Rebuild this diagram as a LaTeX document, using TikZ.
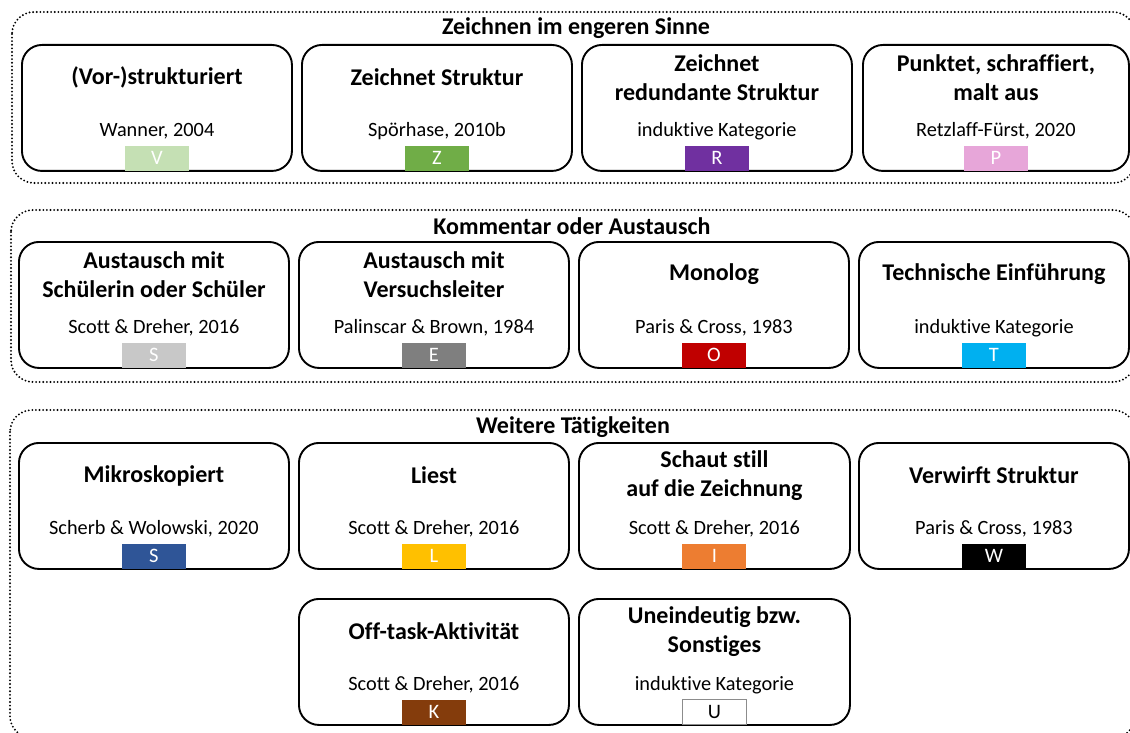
\documentclass[tikz,border=0pt]{standalone}
\usepackage{fontspec}
\setmainfont{Carlito}[Ligatures=NoCommon]

% swatch colours
\definecolor{cV}{HTML}{C5E0B4}
\definecolor{cZ}{HTML}{70AD47}
\definecolor{cR}{HTML}{7030A0}
\definecolor{cP}{HTML}{E7A6D9}
\definecolor{cS}{HTML}{C8C8C8}
\definecolor{cE}{HTML}{7F7F7F}
\definecolor{cO}{HTML}{C00000}
\definecolor{cT}{HTML}{00B0F0}
\definecolor{cM}{HTML}{2F5597}
\definecolor{cL}{HTML}{FFC000}
\definecolor{cI}{HTML}{ED7D31}
\definecolor{cW}{HTML}{000000}
\definecolor{cK}{HTML}{843C0C}

\tikzset{
  catbox/.style={draw, line width=1.9pt, rounded corners=20pt,
    minimum height=126pt, inner sep=0pt, anchor=north west},
  group/.style={draw=black, line width=2.1pt, dash pattern=on 0pt off 3.6pt,
    line cap=round, rounded corners=22pt},
  grouptitle/.style={font=\bfseries\fontsize{24}{29}\selectfont},
  cattitle/.style={font=\bfseries\fontsize{24}{29.5}\selectfont, align=center},
  citation/.style={font=\fontsize{20.3}{24}\selectfont},
  swatch/.style={minimum width=64pt, minimum height=25pt, inner sep=0pt,
    text=white, font=\fontsize{20.5}{24}\selectfont, anchor=south},
  plainswatch/.style={fill=white, draw=black!45, line width=0.8pt, text=black},
}

% name, left x, top y, width, title, citation, swatch style, letter
\newcommand\catnode[8]{%
  \node[catbox, minimum width=#4pt] (#1) at (#2,#3) {};
  \node[cattitle, yshift=-33.5pt] (#1-t) at (#1.north) {#5};
  \node[citation, yshift=-87pt] (#1-c) at (#1.north) {#6};
  \node[swatch, #7, yshift=0.95pt] (#1-s) at (#1.south) {#8};
}

\begin{document}
\begin{tikzpicture}[x=1pt, y=-1pt]
  \useasboundingbox (0,0) rectangle (1130,733);
  \clip (0,0) rectangle (1130,733);

  % groups
  \draw[group] (12,12) rectangle (1135,183);
  \draw[group] (11,210) rectangle (1135,382);
  \draw[group] (10,410) rectangle (1135,738);

  \node[grouptitle] (g1) at (576,28) {Zeichnen im engeren Sinne};
  \node[grouptitle] (g2) at (572,226) {Kommentar oder Austausch};
  \node[grouptitle] (g3) at (573,427) {Weitere Tätigkeiten};

  % drawing in the narrower sense
  \catnode{v}{21}{44}{270}{(Vor-)strukturiert}{Wanner, 2004}{fill=cV}{V}
  \catnode{z}{301}{44}{270}{Zeichnet Struktur}{Spörhase, 2010b}{fill=cZ}{Z}
  \catnode{r}{581}{44}{270}{Zeichnet\\redundante Struktur}{induktive Kategorie}{fill=cR}{R}
  \catnode{p}{862}{44}{266}{Punktet, schraffiert,\\malt aus}{Retzlaff-Fürst, 2020}{fill=cP}{P}

  % comment or exchange
  \catnode{s}{18}{241}{270}{Austausch mit\\Schülerin oder Schüler}{Scott \& Dreher, 2016}{fill=cS}{S}
  \catnode{e}{298}{241}{270}{Austausch mit\\Versuchsleiter}{Palinscar \& Brown, 1984}{fill=cE}{E}
  \catnode{o}{578}{241}{270}{Monolog}{Paris \& Cross, 1983}{fill=cO}{O}
  \catnode{t}{858}{241}{270}{Technische Einführung}{induktive Kategorie}{fill=cT}{T}

  % further activities
  \catnode{m}{18}{442}{270}{Mikroskopiert}{Scherb \& Wolowski, 2020}{fill=cM}{S}
  \catnode{l}{298}{442}{270}{Liest}{Scott \& Dreher, 2016}{fill=cL}{L}
  \catnode{i}{578}{442}{271}{Schaut still\\auf die Zeichnung}{Scott \& Dreher, 2016}{fill=cI}{I}
  \catnode{w}{858}{442}{270}{Verwirft Struktur}{Paris \& Cross, 1983}{fill=cW}{W}
  \catnode{k}{298}{598}{270}{Off-task-Aktivität}{Scott \& Dreher, 2016}{fill=cK}{K}
  \catnode{u}{578}{598}{271}{Uneindeutig bzw.\\Sonstiges}{induktive Kategorie}{plainswatch}{U}
\end{tikzpicture}
\end{document}
